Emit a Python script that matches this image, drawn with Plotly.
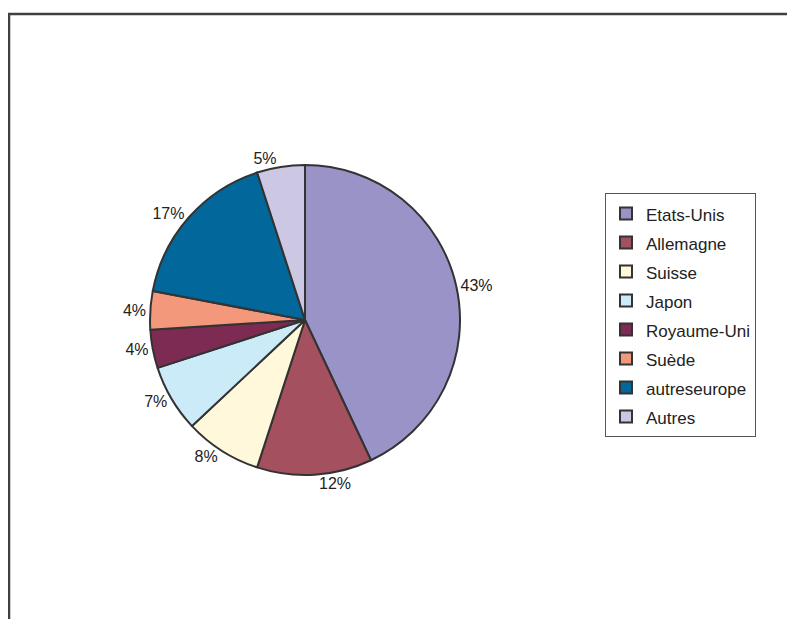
import plotly.graph_objects as go

categories = ["Etats-Unis", "Allemagne", "Suisse", "Japon", "Royaume-Uni",
              "Suède", "autreseurope", "Autres"]
values = [43, 12, 8, 7, 4, 4, 17, 5]
colors = ["#9A93C8", "#A4505F", "#FFF8DA", "#CCEBF8", "#7E2B54",
          "#F3987A", "#02679A", "#CCC7E3"]

FONT = "Liberation Sans, Arial, sans-serif"
# legend entries: larger legend font gives the roomy row spacing, inner span sets the text size
legend_labels = ["<span style='font-size:17px'>%s</span>" % c for c in categories]

fig = go.Figure(go.Pie(
    labels=legend_labels,
    values=values,
    sort=False,
    direction="clockwise",
    rotation=0,
    marker=dict(colors=colors, line=dict(color="#333333", width=2)),
    texttemplate="%{percent:.0%}",
    textposition="outside",
    outsidetextfont=dict(family=FONT, size=16, color="#222222"),
    domain=dict(x=[0.1786, 0.5686], y=[0.2456, 0.7464]),
    customdata=categories,
    hovertemplate="%{customdata}: %{percent:.0%}<extra></extra>",
))

fig.update_layout(
    width=795, height=619,
    margin=dict(l=0, r=0, t=0, b=0),
    paper_bgcolor="white",
    plot_bgcolor="white",
    font=dict(family=FONT, size=16, color="#222222"),
    showlegend=True,
    legend=dict(
        x=597 / 795, y=1 - 185 / 619, xanchor="left", yanchor="top",
        bordercolor="#555555", borderwidth=1, bgcolor="white",
        font=dict(family=FONT, size=20, color="#222222"),
    ),
    shapes=[dict(type="rect", xref="paper", yref="paper",
                 x0=1 / 795, x1=1.3, y0=-0.3, y1=1 - 6 / 619,
                 line=dict(color="#404040", width=2.5))],
)

fig.write_html("out.html")
